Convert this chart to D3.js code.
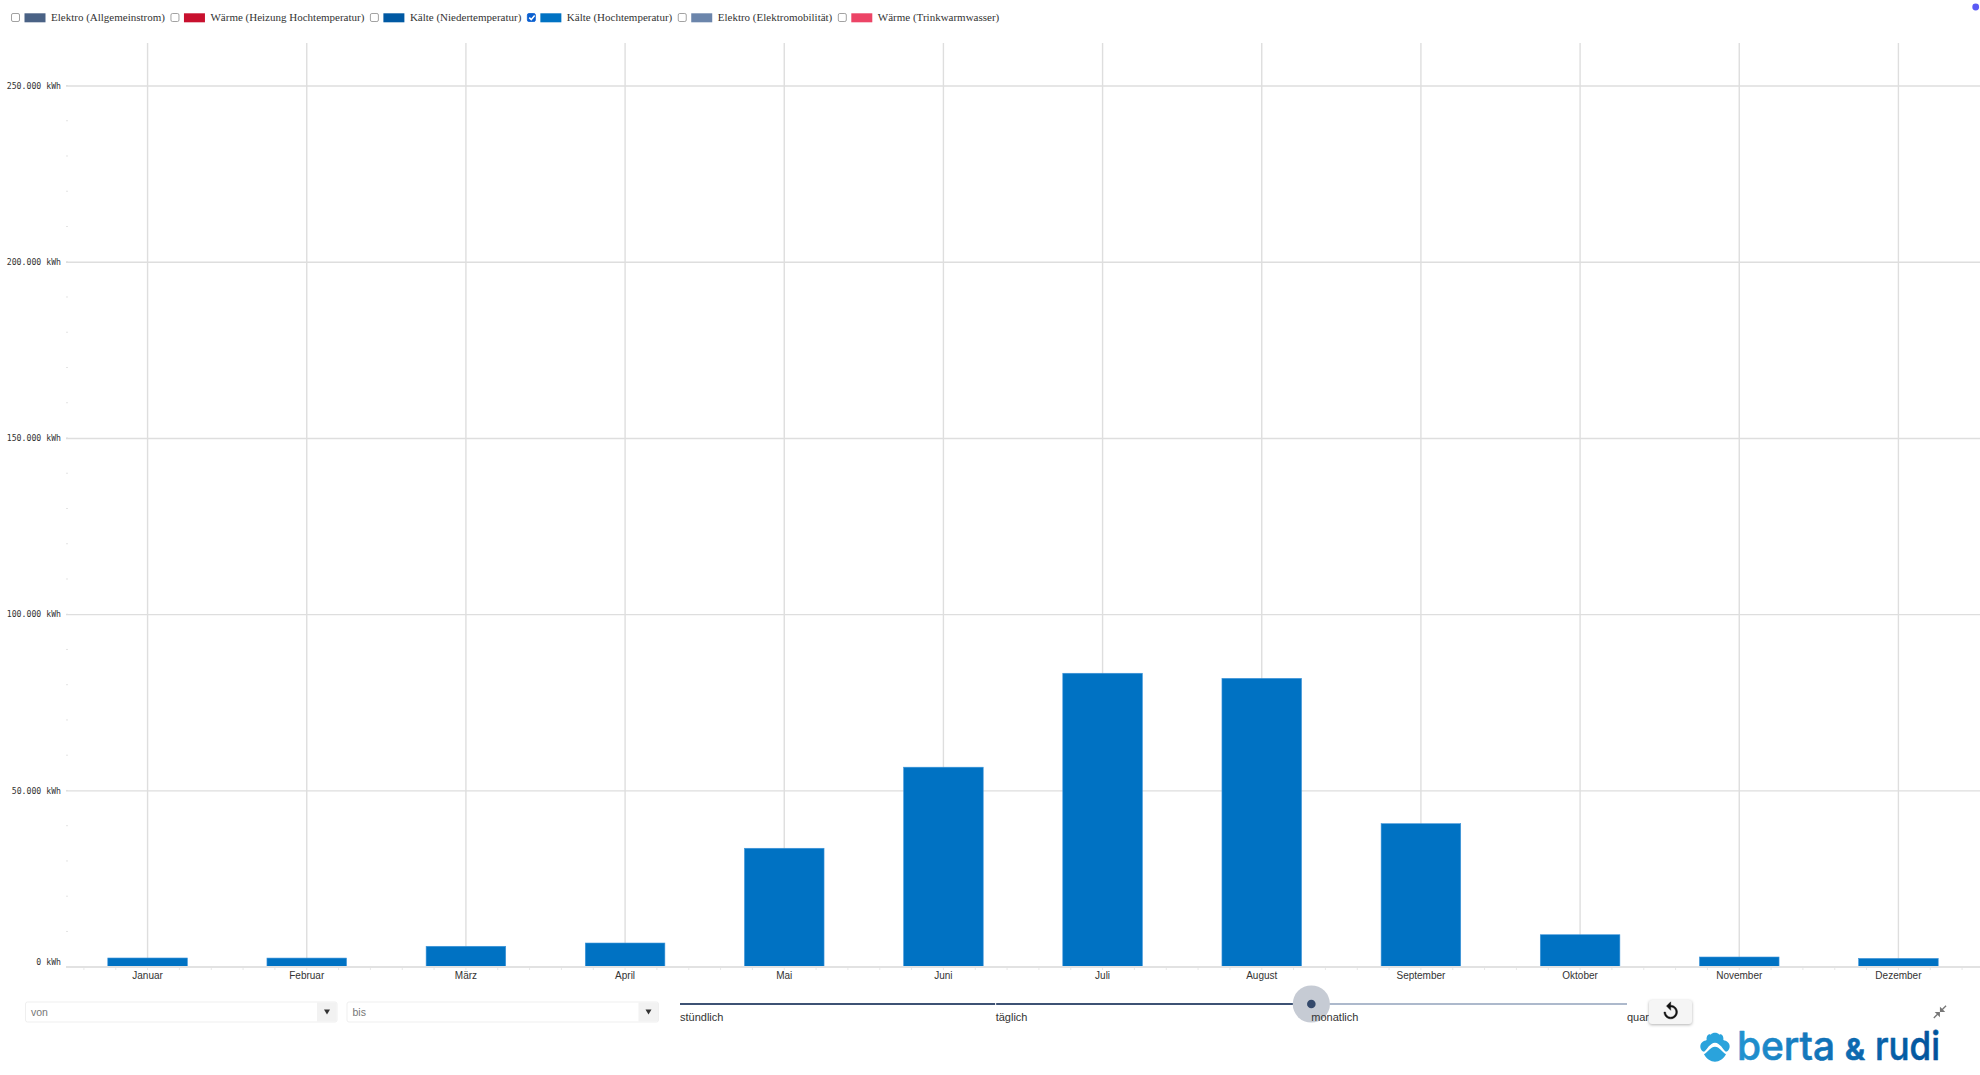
<!DOCTYPE html>
<html>
<head>
<meta charset="utf-8">
<title>Kälte (Hochtemperatur)</title>
<script src="https://cdn.jsdelivr.net/npm/d3@7"></script>
<style>
  html, body { margin: 0; padding: 0; background: #fff; overflow: hidden; }
  svg { display: block; }
  .y-axis text { font: 8.2px "DejaVu Sans Mono", monospace; fill: #333; }
  .x-axis text { font: 10px "Liberation Sans", Arial, sans-serif; fill: #333; }
  .legend text { font: 11px "Liberation Serif", "Times New Roman", serif; fill: #333; }
  .ctrl text { font: 11px "Liberation Sans", Arial, sans-serif; fill: #333; }
</style>
</head>
<body>
<div id="chart"></div>
<script>
// values
var months = ["Januar", "Februar", "März", "April", "Mai", "Juni", "Juli", "August", "September", "Oktober", "November", "Dezember"];
var kwh = [2470, 2450, 5790, 6720, 33600, 56600, 83250, 81800, 40570, 9070, 2750, 2350];
var yTicks = [0, 50000, 100000, 150000, 200000, 250000];

var legendNames = ["Elektro (Allgemeinstrom)", "Wärme (Heizung Hochtemperatur)", "Kälte (Niedertemperatur)", "Kälte (Hochtemperatur)", "Elektro (Elektromobilität)", "Wärme (Trinkwarmwasser)"];
var legendColors = ["#4a6285", "#c8102e", "#0059a3", "#0072c3", "#6b85ab", "#ec4466"];
var legendChecked = [false, false, false, true, false, false];

var sliderSteps = ["stündlich", "täglich", "monatlich", "quar"];
var sliderValue = "monatlich";
var selectLabels = ["von", "bis"];

const width = 1980, height = 1075;
const margin = {top: 43, right: 2, bottom: 108, left: 68};
const baseY = height - margin.bottom;

const svg = d3.select("#chart")
  .append("svg")
    .attr("width", width)
    .attr("height", height);

// scales
const x = d3.scaleBand()
  .domain(months)
  .range([margin.left, width - margin.right])
  .paddingInner(0.5)
  .paddingOuter(0.25);

const y = d3.scaleLinear()
  .domain([0, 250000])
  .range([baseY - 0.3, 85.5]);

const de = d3.formatLocale({decimal: ",", thousands: ".", grouping: [3], currency: ["", " €"]});

// small ticks along both axes
svg.append("g")
  .selectAll("line")
  .data(d3.range(0, 250001, 10000))
  .join("line")
    .attr("x1", 66).attr("x2", 68)
    .attr("y1", d => y(d)).attr("y2", d => y(d))
    .attr("stroke", "#e4e4e4");

svg.append("g")
  .selectAll("line")
  .data(d3.range(-2, 12 * 5 - 1))
  .join("line")
    .attr("x1", i => x("Januar") + x.bandwidth() / 2 + i * x.step() / 5)
    .attr("x2", i => x("Januar") + x.bandwidth() / 2 + i * x.step() / 5)
    .attr("y1", baseY)
    .attr("y2", baseY + 3)
    .attr("stroke", "#e8e8e8");

// vertical grid
svg.append("g")
  .attr("transform", `translate(0, ${baseY})`)
  .call(d3.axisBottom(x).tickSize(-(baseY - margin.top)).tickFormat(""))
  .call(g => g.select(".domain").remove())
  .call(g => g.selectAll("line").attr("stroke", "#dedede").attr("stroke-width", 1.4));

// y axis with horizontal grid
svg.append("g")
  .attr("class", "y-axis")
  .attr("transform", "translate(66, 0)")
  .call(d3.axisLeft(y)
    .tickValues(yTicks)
    .tickSize(-(width - 66))
    .tickPadding(5)
    .tickFormat(d => de.format(",")(d) + " kWh"))
  .call(g => g.select(".domain").remove())
  .call(g => g.selectAll("line").attr("stroke", "#dedede").attr("stroke-width", 1.3))
  .call(g => g.selectAll("text").attr("dy", d => d === 0 ? "-0.28em" : "0.32em"));

// bars
svg.append("g")
  .selectAll("rect")
  .data(kwh)
  .join("rect")
    .attr("x", (d, i) => x(months[i]))
    .attr("y", d => y(d))
    .attr("width", x.bandwidth())
    .attr("height", d => y(0) - y(d))
    .attr("fill", "#0072c3")
    .attr("stroke", "#3f95da")
    .attr("stroke-width", 0.6);

// baseline and month labels
svg.append("line")
  .attr("x1", 66).attr("x2", width)
  .attr("y1", baseY).attr("y2", baseY)
  .attr("stroke", "#e2e2e2")
  .attr("stroke-width", 2);

svg.append("g")
  .attr("class", "x-axis")
  .attr("transform", `translate(0, ${baseY})`)
  .call(d3.axisBottom(x).tickSize(0).tickPadding(5))
  .call(g => g.select(".domain").remove());

// legend, laid out from the measured label widths
const legend = svg.append("g").attr("class", "legend");
let lx = 11;
legendNames.forEach(function(name, i) {
  legend.append("rect")
    .attr("x", lx + 0.5).attr("y", 13.5)
    .attr("width", 8).attr("height", 8).attr("rx", 1.5)
    .attr("fill", legendChecked[i] ? "#0a5fd0" : "#fff")
    .attr("stroke", legendChecked[i] ? "#0a5fd0" : "#8a8a8a")
    .attr("stroke-width", 0.8);
  if (legendChecked[i]) {
    legend.append("path")
      .attr("d", `M${lx + 2.4},17.6 l2,2 l3.4,-4`)
      .attr("fill", "none")
      .attr("stroke", "#fff")
      .attr("stroke-width", 1.5);
  }
  legend.append("rect")
    .attr("x", lx + 13.5).attr("y", 13.3)
    .attr("width", 21).attr("height", 9)
    .attr("fill", legendColors[i]);
  const label = legend.append("text")
    .attr("x", lx + 40).attr("y", 21)
    .text(name);
  lx += 40 + label.node().getComputedTextLength() + 5.5;
});

// top right dot
svg.append("circle")
  .attr("cx", 1975.7).attr("cy", 7).attr("r", 3.4)
  .attr("fill", "#5a5af5");

// von / bis selects
const ctrl = svg.append("g").attr("class", "ctrl");
const selectX = d3.scalePoint().domain(selectLabels).range([25.5, 347]);
selectLabels.forEach(function(name) {
  const sx = selectX(name), sw = 311.5;
  ctrl.append("rect")
    .attr("x", sx).attr("y", 1002)
    .attr("width", sw).attr("height", 20).attr("rx", 2)
    .attr("fill", "#fff").attr("stroke", "#efefef");
  ctrl.append("rect")
    .attr("x", sx + sw - 20).attr("y", 1002.5)
    .attr("width", 19.5).attr("height", 19)
    .attr("fill", "#f2f2f2");
  ctrl.append("path")
    .attr("d", `M${sx + sw - 13},1009.5 h6 l-3,5 z`)
    .attr("fill", "#333");
  ctrl.append("text")
    .attr("x", sx + 5.5).attr("y", 1015.5)
    .style("font-size", "10.5px")
    .style("fill", "#777")
    .text(name);
});

// granularity slider
const sx = d3.scalePoint().domain(sliderSteps).range([680, 1627]);
ctrl.append("line")
  .attr("x1", sx(sliderValue)).attr("x2", sx.range()[1])
  .attr("y1", 1004).attr("y2", 1004)
  .attr("stroke", "#92a2bb").attr("stroke-width", 1.6);
ctrl.append("line")
  .attr("x1", sx.range()[0]).attr("x2", sx(sliderValue))
  .attr("y1", 1004).attr("y2", 1004)
  .attr("stroke", "#3d5274").attr("stroke-width", 2);
ctrl.append("line")
  .attr("x1", sx("täglich")).attr("x2", sx("täglich"))
  .attr("y1", 1002.5).attr("y2", 1005.5)
  .attr("stroke", "#fff").attr("stroke-width", 1);
ctrl.append("circle")
  .attr("cx", sx(sliderValue)).attr("cy", 1004).attr("r", 18.6)
  .attr("fill", "#c6cbd4");
ctrl.append("circle")
  .attr("cx", sx(sliderValue)).attr("cy", 1004).attr("r", 4.3)
  .attr("fill", "#34496b");
ctrl.selectAll("text.step")
  .data(sliderSteps)
  .join("text")
    .attr("class", "step")
    .attr("x", d => sx(d))
    .attr("y", 1021)
    .text(d => d);

// reset button
svg.append("rect")
  .attr("x", 1649).attr("y", 1000)
  .attr("width", 43).attr("height", 24).attr("rx", 3)
  .attr("fill", "#f5f5f5")
  .style("filter", "drop-shadow(0 1px 1.5px rgba(0,0,0,0.3))");
svg.append("path")
  .attr("transform", "translate(1660.5, 1001) scale(0.85)")
  .attr("d", "M12 5V1L7 6l5 5V7c3.31 0 6 2.69 6 6s-2.69 6-6 6-6-2.69-6-6H4c0 4.42 3.58 8 8 8s8-3.58 8-8-3.58-8-8-8z")
  .attr("fill", "#111")
  .attr("stroke", "#111")
  .attr("stroke-width", 0.5);

// collapse icon
svg.append("path")
  .attr("transform", "translate(1932, 1004) scale(0.66)")
  .attr("d", "M22 3.41 16.71 8.7 20 12h-8V4l3.3 3.29L20.59 2 22 3.41zM3.41 22l5.29-5.29L12 20v-8H4l3.29 3.3L2 20.59 3.41 22z")
  .attr("fill", "#777");

// logo
const grad = svg.append("defs").append("linearGradient")
  .attr("id", "logoGrad")
  .attr("gradientUnits", "userSpaceOnUse")
  .attr("x1", 1700).attr("x2", 1940).attr("y1", 0).attr("y2", 0);
grad.append("stop").attr("offset", "0%").attr("stop-color", "#2aa3dc");
grad.append("stop").attr("offset", "50%").attr("stop-color", "#1273b8");
grad.append("stop").attr("offset", "100%").attr("stop-color", "#00529b");

const logo = svg.append("g");
logo.append("g")
  .attr("transform", "translate(1690, 1020) scale(0.3333)")
  .attr("fill", "#2aa3dc")
  .selectAll("path")
  .data([
    "M42,95 C30,92 28,75 35,68 C40,62 48,62 50,60 C48,48 56,40 62,44 C68,36 82,36 88,44 C94,40 102,48 100,60 C104,62 110,62 115,68 C122,75 120,92 108,95 C100,90 90,68 75,68 C60,68 50,90 42,95 Z",
    "M75,80 C88,80 95,95 108,103 C100,118 88,125 75,125 C62,125 50,118 42,103 C55,95 62,80 75,80 Z"
  ])
  .join("path")
    .attr("d", d => d);

[["berta", 1737, 98, "500 40px Inter, sans-serif"], ["&", 1845, 20, "700 30px Inter, sans-serif"], ["rudi", 1875, 65, "500 40px Inter, sans-serif"]].forEach(function(w) {
  logo.append("text")
    .attr("x", w[1])
    .attr("y", 1059.5)
    .attr("textLength", w[2])
    .attr("lengthAdjust", "spacingAndGlyphs")
    .attr("fill", "url(#logoGrad)")
    .attr("stroke", "url(#logoGrad)")
    .attr("stroke-width", 0.6)
    .attr("stroke-linejoin", "round")
    .style("font", w[3])
    .text(w[0]);
});
</script>
</body>
</html>
